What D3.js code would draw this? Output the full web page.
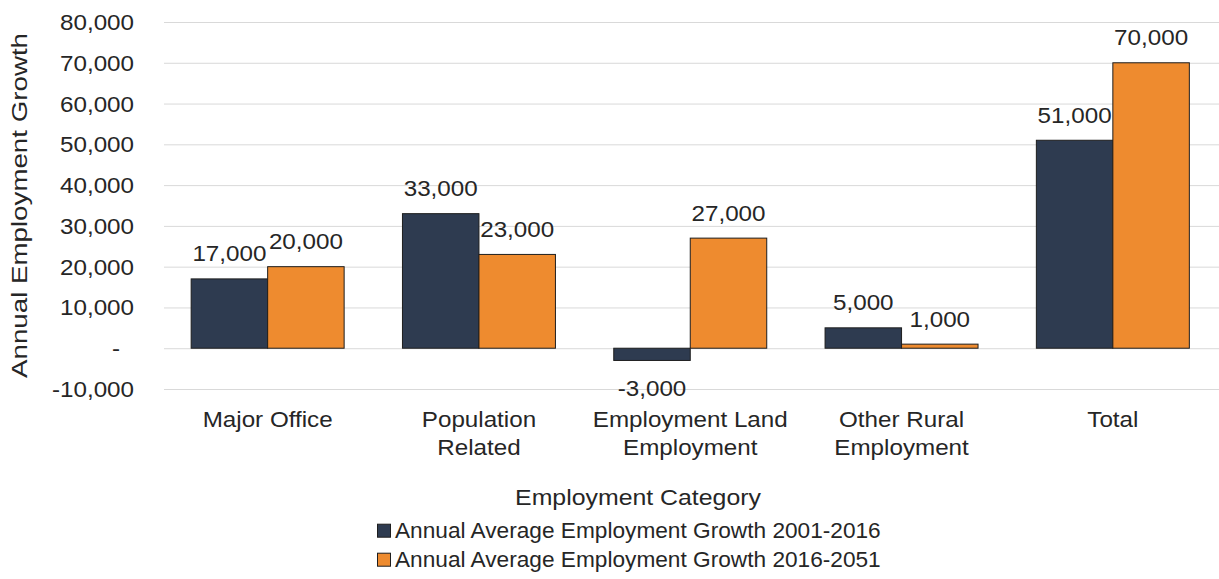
<!DOCTYPE html>
<html>
<head>
<meta charset="utf-8">
<script src="https://cdn.jsdelivr.net/npm/d3@7"></script>
<style>
  html, body { margin: 0; padding: 0; background: #ffffff; }
  svg { display: block; }
  text { font-family: "Liberation Sans", Arial, sans-serif; fill: #262626; }
</style>
</head>
<body>
<svg id="chart" width="1219" height="579"></svg>
<script>
// Employment categories (each entry holds the wrapped lines of its axis label)
const categories = ["Major Office", "Population Related", "Employment Land Employment", "Other Rural Employment", "Total"];
const categoryLines = [["Major Office"], ["Population", "Related"], ["Employment Land", "Employment"], ["Other Rural", "Employment"], ["Total"]];

// Annual average employment growth by period
const seriesNames = ["Annual Average Employment Growth 2001-2016", "Annual Average Employment Growth 2016-2051"];
const growth2001to2016 = [17000, 33000, -3000, 5000, 51000];
const growth2016to2051 = [20000, 23000, 27000, 1000, 70000];
const seriesColors = ["#2e3b50", "#ee8b2f"];

// Value axis ticks
const yTicks = [-10000, 0, 10000, 20000, 30000, 40000, 50000, 60000, 70000, 80000];

const svg = d3.select("#chart");
const FONT = 22;
const SX = 1.1; // horizontal glyph stretch used for the chart text

const x = d3.scaleBand().domain(categories).range([162, 1218.5]).paddingInner(0).paddingOuter(0);
const xs = d3.scaleBand().domain([0, 1]).range([x.bandwidth() * 0.138, x.bandwidth() * 0.862]).padding(0);
const y = d3.scaleLinear().domain([-10000, 80000]).range([389, 22]);

// Thousands separators, plain hyphen for negatives, dash for zero
const locale = d3.formatLocale({ decimal: ".", thousands: ",", grouping: [3], currency: ["$", ""], minus: "-" });
const fmt = v => v === 0 ? "-" : locale.format(",")(v);

function addText(parent, px, py, str, anchor, sx) {
  return parent.append("text")
    .attr("transform", `translate(${px},${py}) scale(${sx},1)`)
    .attr("text-anchor", anchor)
    .style("font-size", FONT + "px")
    .text(str);
}

// Horizontal gridlines
const grid = svg.append("g")
  .attr("transform", "translate(164,0)")
  .call(d3.axisLeft(y).tickValues(yTicks).tickSize(-(1219 - 164)).tickFormat(""));
grid.select(".domain").remove();
grid.selectAll(".tick line").attr("stroke", "#d9d9d9").attr("stroke-width", 1);

// Tick labels
const tickG = svg.append("g");
yTicks.forEach(t => {
  addText(tickG, t === 0 ? 120 : 134, y(t) + 8, fmt(t), "end", SX);
});

// Bars
const seriesData = [growth2001to2016, growth2016to2051];
const barG = svg.append("g");
seriesData.forEach((vals, s) => {
  barG.selectAll(null)
    .data(vals.map((v, i) => ({ v, c: categories[i] })))
    .enter().append("rect")
    .attr("x", d => x(d.c) + xs(s))
    .attr("width", xs.bandwidth())
    .attr("y", d => y(Math.max(0, d.v)))
    .attr("height", d => Math.abs(y(d.v) - y(0)))
    .attr("fill", seriesColors[s])
    .attr("stroke", "#1e1e1e")
    .attr("stroke-width", 1);
});

// Data labels
const lblG = svg.append("g");
seriesData.forEach((vals, s) => {
  vals.forEach((v, i) => {
    const cx = x(categories[i]) + xs(s) + xs.bandwidth() / 2;
    const py = v >= 0 ? y(v) - 17.5 : y(v) + 36;
    addText(lblG, cx, py, fmt(v), "middle", SX);
  });
});

// Category labels
const catG = svg.append("g");
categoryLines.forEach((lines, i) => {
  const cx = x(categories[i]) + x.bandwidth() / 2;
  lines.forEach((ln, k) => addText(catG, cx, 427 + k * 28, ln, "middle", SX));
});

// Axis titles
addText(svg, 638, 505, "Employment Category", "middle", 1.13);
svg.append("text")
  .attr("transform", "translate(27,205.5) rotate(-90)")
  .attr("text-anchor", "middle")
  .attr("textLength", 345)
  .attr("lengthAdjust", "spacingAndGlyphs")
  .style("font-size", FONT + "px")
  .text("Annual Employment Growth");

// Legend
const legG = svg.append("g");
seriesNames.forEach((name, s) => {
  const base = 537.7 + s * 29;
  legG.append("rect")
    .attr("x", 377.5).attr("y", base - 13.5)
    .attr("width", 13).attr("height", 13)
    .attr("fill", seriesColors[s])
    .attr("stroke", "#1e1e1e").attr("stroke-width", 1);
  addText(legG, 395, base, name, "start", 1.03);
});
</script>
</body>
</html>
